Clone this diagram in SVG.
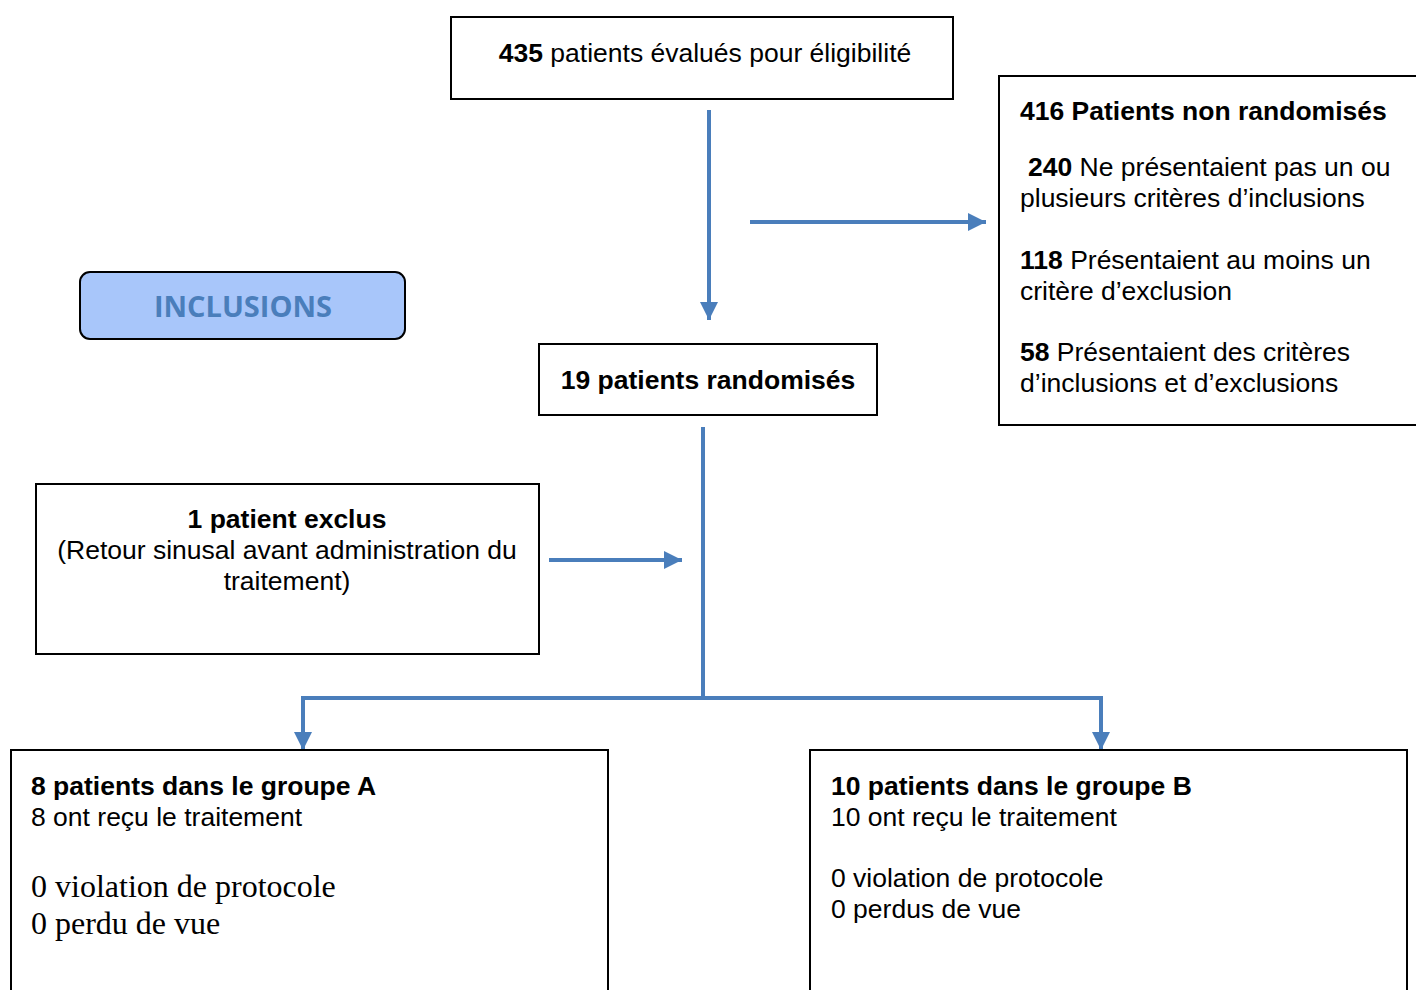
<svg xmlns="http://www.w3.org/2000/svg" width="1416" height="990" viewBox="0 0 1416 990">
<style>
.box{fill:#fff;stroke:#000;stroke-width:2}
.t{font-family:"Liberation Sans",Arial,sans-serif;font-size:26.5px;fill:#000}
.b{font-weight:bold}
.s{font-family:"Liberation Serif","Times New Roman",serif;font-size:32px;fill:#000}
.c{fill:none;stroke:#4a7ebb;stroke-width:4}
</style>
<defs>
<marker id="ah" viewBox="0 0 10 10" refX="10" refY="5" markerWidth="4.6" markerHeight="4.6" orient="auto" markerUnits="strokeWidth">
<path d="M0,0 L10,5 L0,10 z" fill="#4a7ebb"/>
</marker>
</defs>
<rect width="1416" height="990" fill="#fff"/>
<g id="connectors">
<line class="c" x1="709" y1="110" x2="709" y2="320" marker-end="url(#ah)"/>
<line class="c" x1="750" y1="222" x2="986" y2="222" marker-end="url(#ah)"/>
<line class="c" x1="703" y1="427" x2="703" y2="700"/>
<line class="c" x1="549" y1="560" x2="682" y2="560" marker-end="url(#ah)"/>
<polyline class="c" points="303,750 303,698 1101,698 1101,750" marker-end="url(#ah)"/>
<line class="c" x1="303" y1="700" x2="303" y2="750" marker-end="url(#ah)"/>
</g>
<g id="n-eval">
<rect class="box" x="451" y="17" width="502" height="82"/>
<text class="t" x="705" y="62" text-anchor="middle"><tspan class="b">435</tspan> patients évalués pour éligibilité</text>
</g>
<g id="n-nonrand">
<rect class="box" x="999" y="76" width="430" height="349"/>
<text class="t b" x="1020" y="120">416 Patients non randomisés</text>
<text class="t" x="1028" y="176"><tspan class="b">240</tspan> Ne présentaient pas un ou</text>
<text class="t" x="1020" y="207">plusieurs critères d’inclusions</text>
<text class="t" x="1020" y="269"><tspan class="b">118</tspan> Présentaient au moins un</text>
<text class="t" x="1020" y="300">critère d’exclusion</text>
<text class="t" x="1020" y="361"><tspan class="b">58</tspan> Présentaient des critères</text>
<text class="t" x="1020" y="392">d’inclusions et d’exclusions</text>
</g>
<g id="n-inclusions">
<rect x="80" y="272" width="325" height="67" rx="10" fill="#a8c6fa" stroke="#000" stroke-width="2"/>
<text x="243" y="317" text-anchor="middle" style="font-family:'Open Sans','Noto Sans',sans-serif;font-size:29px;font-weight:bold;fill:#4a7ebb">INCLUSIONS</text>
</g>
<g id="n-rand">
<rect class="box" x="539" y="344" width="338" height="71"/>
<text class="t b" x="708" y="389" text-anchor="middle">19 patients randomisés</text>
</g>
<g id="n-excl">
<rect class="box" x="36" y="484" width="503" height="170"/>
<text class="t b" x="287" y="528" text-anchor="middle">1 patient exclus</text>
<text class="t" x="287" y="559" text-anchor="middle">(Retour sinusal avant administration du</text>
<text class="t" x="287" y="590" text-anchor="middle">traitement)</text>
</g>
<g id="n-groupA">
<rect class="box" x="11" y="750" width="597" height="250"/>
<text class="t b" x="31" y="795">8 patients dans le groupe A</text>
<text class="t" x="31" y="826">8 ont reçu le traitement</text>
<text class="s" x="31" y="897">0 violation de protocole</text>
<text class="s" x="31" y="934">0 perdu de vue</text>
</g>
<g id="n-groupB">
<rect class="box" x="810" y="750" width="597" height="250"/>
<text class="t b" x="831" y="795">10 patients dans le groupe B</text>
<text class="t" x="831" y="826">10 ont reçu le traitement</text>
<text class="t" x="831" y="887">0 violation de protocole</text>
<text class="t" x="831" y="918">0 perdus de vue</text>
</g>
</svg>
